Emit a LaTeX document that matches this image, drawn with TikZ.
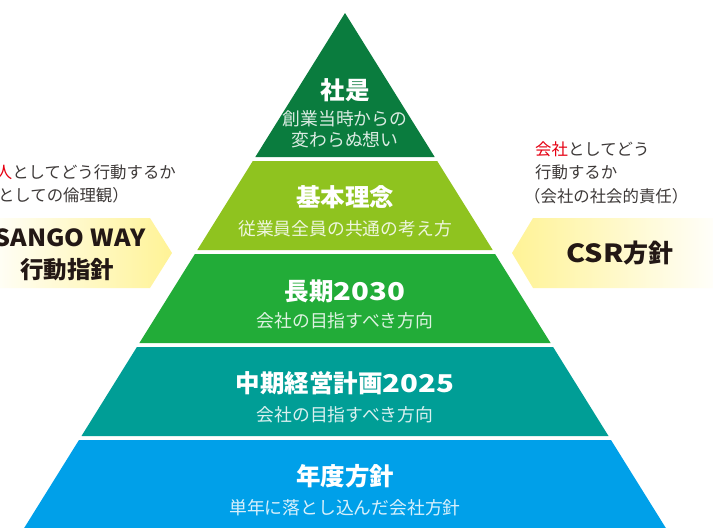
\documentclass[tikz,border=0pt]{standalone}
\usepackage{fontspec}
\usepackage{graphicx}
\setmainfont{Noto Sans CJK JP}
\usetikzlibrary{shadings}
\definecolor{tierA}{RGB}{10,124,62}
\definecolor{tierB}{RGB}{143,195,31}
\definecolor{tierC}{RGB}{34,172,56}
\definecolor{tierD}{RGB}{0,158,150}
\definecolor{tierE}{RGB}{0,160,233}
\definecolor{ylw}{RGB}{255,243,150}
\definecolor{ink}{RGB}{35,24,21}
\definecolor{note}{RGB}{62,58,57}
\definecolor{accent}{RGB}{230,0,18}
\newcommand{\wdg}[1]{\scalebox{1.2}[1]{#1}}
\begin{document}
\begin{tikzpicture}[x=1pt,y=-1pt,
  ttl/.style={inner sep=0pt,text=white,font=\fontsize{24.5pt}{28pt}\selectfont\bfseries},
  subt/.style={inner sep=0pt,text=white,text opacity=0.85,font=\fontsize{17.8pt}{20pt}\selectfont},
  notetxt/.style={inner sep=0pt,text=note,font=\fontsize{16.4pt}{19pt}\selectfont},
  boxtxt/.style={inner sep=0pt,text=ink,font=\fontsize{23.5pt}{26pt}\selectfont\bfseries}]
\useasboundingbox (0,0) rectangle (713,528);
\clip (0,0) rectangle (713,528);
\fill[white] (0,0) rectangle (713,528);
% pyramid tiers
\fill[tierA] (345,13) -- (434.7,157) -- (255.3,157) -- cycle;
\fill[tierB] (252.8,161) -- (437.2,161) -- (492.7,250) -- (197.3,250) -- cycle;
\fill[tierC] (194.9,254) -- (495.1,254) -- (550.6,343) -- (139.4,343) -- cycle;
\fill[tierD] (136.9,347) -- (553.1,347) -- (608.5,436) -- (81.5,436) -- cycle;
\fill[tierE] (79,440) -- (611,440) -- (673.3,540) -- (16.7,540) -- cycle;
% side boxes
\shade[left color=white,right color=ylw] (-20,218) -- (150,218) -- (172,253) -- (150,288) -- (-20,288) -- cycle;
\shade[left color=ylw,right color=white] (512,253) -- (533,218) -- (725,218) -- (725,288) -- (533,288) -- cycle;
% tier texts
\node[ttl] (t1) at (345,90) {社是};
\node[subt] (s1a) at (345,119) {創業当時からの};
\node[subt] (s1b) at (345,140) {変わらぬ想い};
\node[ttl] (t2) at (345,197) {基本理念};
\node[subt] (s2) at (345,229) {従業員全員の共通の考え方};
\node[ttl] (t3) at (345,291) {長期\wdg{2030}};
\node[subt] (s3) at (345,321) {会社の目指すべき方向};
\node[ttl] (t4) at (345,383) {中期経営計画\wdg{2025}};
\node[subt] (s4) at (345,415) {会社の目指すべき方向};
\node[ttl] (t5) at (345,476) {年度方針};
\node[subt] (s5) at (345,508) {単年に落とし込んだ会社方針};
% side notes
\node[notetxt,anchor=east] (l1) at (176,172) {\textcolor{accent}{個人}としてどう行動するか};
\node[notetxt,anchor=east] (l2) at (129,195) {（個人としての倫理観）};
\node[notetxt,anchor=west] (r1) at (535,149) {\textcolor{accent}{会社}としてどう};
\node[notetxt,anchor=west] (r2) at (535,172) {行動するか};
\node[notetxt,anchor=west] (r3) at (524,196) {（会社の社会的責任）};
% box texts
\node[boxtxt] (w1) at (70,238) {\scalebox{1.07}[1]{SANGO WAY}};
\node[boxtxt] (w2) at (67,270) {行動指針};
\node[boxtxt,font=\fontsize{25pt}{28pt}\selectfont\bfseries] (csr) at (620,253) {\scalebox{1.15}[1]{CSR}方針};
\end{tikzpicture}
\end{document}
